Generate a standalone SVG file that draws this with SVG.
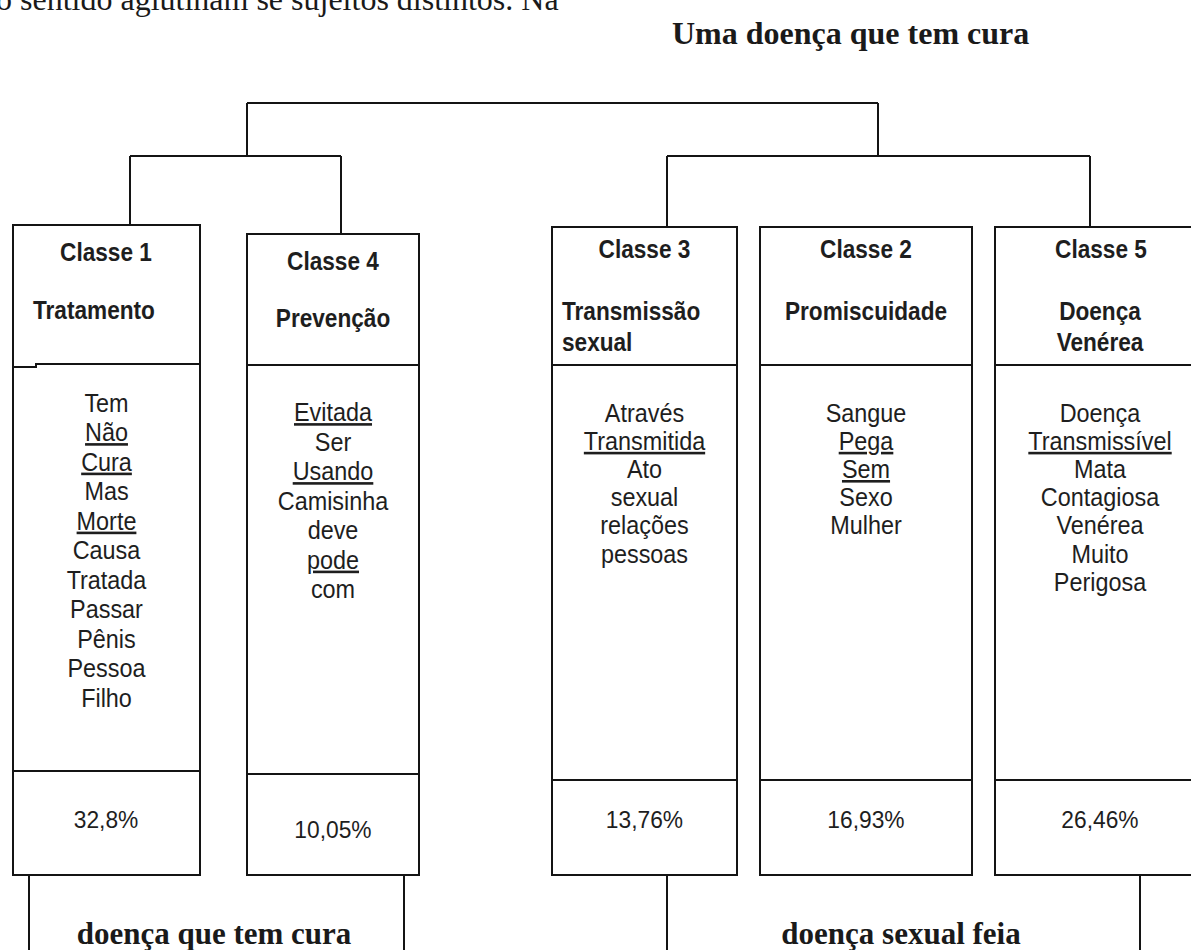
<svg xmlns="http://www.w3.org/2000/svg" width="1191" height="950" viewBox="0 0 1191 950">
<style>
.ln{fill:none;stroke:#141414;stroke-width:2}
.bx{fill:#fff;stroke:#141414;stroke-width:2}
.h{font-family:"Liberation Sans",Arial,sans-serif;font-weight:bold;font-size:26px;fill:#1e1e1e}
.w{font-family:"Liberation Sans",Arial,sans-serif;font-size:26px;fill:#1e1e1e;text-anchor:middle}
.u{text-decoration:underline}
.p{font-family:"Liberation Sans",Arial,sans-serif;font-size:24px;fill:#1e1e1e;text-anchor:middle}
.s{font-family:"Liberation Serif","Times New Roman",serif;fill:#1a1a1a}
.c{text-anchor:middle}
</style>
<rect width="1191" height="950" fill="#fff"/>
<text class="s" x="-4" y="10" font-size="32">o sentido aglutinam se sujeitos distintos. Na</text>
<text class="s" x="672" y="44" font-size="32" font-weight="bold">Uma doença que tem cura</text>

<g id="connectors">
<path class="ln" d="M247,103 H878 M247,103 V156 M130,156 H341 M130,156 V225 M341,156 V234 M878,103 V156 M667,156 H1090 M667,156 V227 M1090,156 V227"/>
<path class="ln" d="M29,875 V950 M404,875 V950 M667,875 V950 M1140,875 V950"/>
</g>

<g id="classe1">
<rect class="bx" x="13" y="225" width="187" height="650"/>
<path class="ln" d="M13,367 H36 V364 H200 M13,771 H200"/>
<text class="h c" transform="translate(106 261) scale(0.87 1)">Classe 1</text>
<text class="h" transform="translate(33 319) scale(0.87 1)">Tratamento</text>
<text class="w" transform="translate(106.5 411.5) scale(0.9 1)">Tem</text>
<text class="w u" transform="translate(106.5 441) scale(0.9 1)">Não</text>
<text class="w u" transform="translate(106.5 470.5) scale(0.9 1)">Cura</text>
<text class="w" transform="translate(106.5 500) scale(0.9 1)">Mas</text>
<text class="w u" transform="translate(106.5 529.5) scale(0.9 1)">Morte</text>
<text class="w" transform="translate(106.5 559) scale(0.9 1)">Causa</text>
<text class="w" transform="translate(106.5 588.5) scale(0.9 1)">Tratada</text>
<text class="w" transform="translate(106.5 618) scale(0.9 1)">Passar</text>
<text class="w" transform="translate(106.5 647.5) scale(0.9 1)">Pênis</text>
<text class="w" transform="translate(106.5 677) scale(0.9 1)">Pessoa</text>
<text class="w" transform="translate(106.5 706.5) scale(0.9 1)">Filho</text>
<text class="p" transform="translate(106 828) scale(0.95 1)">32,8%</text>
</g>

<g id="classe4">
<rect class="bx" x="247" y="234" width="172" height="641"/>
<path class="ln" d="M247,365 H419 M247,774 H419"/>
<text class="h c" transform="translate(333 270) scale(0.87 1)">Classe 4</text>
<text class="h c" transform="translate(333 327) scale(0.87 1)">Prevenção</text>
<text class="w u" transform="translate(333 421) scale(0.9 1)">Evitada</text>
<text class="w" transform="translate(333 450.5) scale(0.9 1)">Ser</text>
<text class="w u" transform="translate(333 480) scale(0.9 1)">Usando</text>
<text class="w" transform="translate(333 509.5) scale(0.9 1)">Camisinha</text>
<text class="w" transform="translate(333 539) scale(0.9 1)">deve</text>
<text class="w u" transform="translate(333 568.5) scale(0.9 1)">pode</text>
<text class="w" transform="translate(333 598) scale(0.9 1)">com</text>
<text class="p" transform="translate(333 838) scale(0.95 1)">10,05%</text>
</g>

<g id="classe3">
<rect class="bx" x="552" y="227" width="185" height="648"/>
<path class="ln" d="M552,365 H737 M552,780 H737"/>
<text class="h c" transform="translate(644.5 258) scale(0.87 1)">Classe 3</text>
<text class="h" transform="translate(562 320) scale(0.87 1)">Transmissão</text>
<text class="h" transform="translate(562 351) scale(0.87 1)">sexual</text>
<text class="w" transform="translate(644.5 421.5) scale(0.9 1)">Através</text>
<text class="w u" transform="translate(644.5 449.7) scale(0.9 1)">Transmitida</text>
<text class="w" transform="translate(644.5 477.9) scale(0.9 1)">Ato</text>
<text class="w" transform="translate(644.5 506.1) scale(0.9 1)">sexual</text>
<text class="w" transform="translate(644.5 534.3) scale(0.9 1)">relações</text>
<text class="w" transform="translate(644.5 562.5) scale(0.9 1)">pessoas</text>
<text class="p" transform="translate(644.5 828) scale(0.95 1)">13,76%</text>
</g>

<g id="classe2">
<rect class="bx" x="760" y="227" width="212" height="648"/>
<path class="ln" d="M760,365 H972 M760,780 H972"/>
<text class="h c" transform="translate(866 258) scale(0.87 1)">Classe 2</text>
<text class="h c" transform="translate(866 320) scale(0.87 1)">Promiscuidade</text>
<text class="w" transform="translate(866 421.5) scale(0.9 1)">Sangue</text>
<text class="w u" transform="translate(866 449.7) scale(0.9 1)">Pega</text>
<text class="w u" transform="translate(866 477.9) scale(0.9 1)">Sem</text>
<text class="w" transform="translate(866 506.1) scale(0.9 1)">Sexo</text>
<text class="w" transform="translate(866 534.3) scale(0.9 1)">Mulher</text>
<text class="p" transform="translate(866 828) scale(0.95 1)">16,93%</text>
</g>

<g id="classe5">
<rect class="bx" x="995" y="227" width="215" height="648"/>
<path class="ln" d="M995,365 H1210 M995,780 H1210"/>
<text class="h c" transform="translate(1101 258) scale(0.87 1)">Classe 5</text>
<text class="h c" transform="translate(1100 320) scale(0.87 1)">Doença</text>
<text class="h c" transform="translate(1100 351) scale(0.87 1)">Venérea</text>
<text class="w" transform="translate(1100 421.5) scale(0.9 1)">Doença</text>
<text class="w u" transform="translate(1100 449.7) scale(0.9 1)">Transmissível</text>
<text class="w" transform="translate(1100 477.9) scale(0.9 1)">Mata</text>
<text class="w" transform="translate(1100 506.1) scale(0.9 1)">Contagiosa</text>
<text class="w" transform="translate(1100 534.3) scale(0.9 1)">Venérea</text>
<text class="w" transform="translate(1100 562.5) scale(0.9 1)">Muito</text>
<text class="w" transform="translate(1100 590.7) scale(0.9 1)">Perigosa</text>
<text class="p" transform="translate(1100 828) scale(0.95 1)">26,46%</text>
</g>

<g id="grupo-cura">
<text class="s c" x="214" y="944" font-size="31" font-weight="bold">doença que tem cura</text>
</g>
<g id="grupo-feia">
<text class="s c" x="901" y="944" font-size="31" font-weight="bold">doença sexual feia</text>
</g>
</svg>
